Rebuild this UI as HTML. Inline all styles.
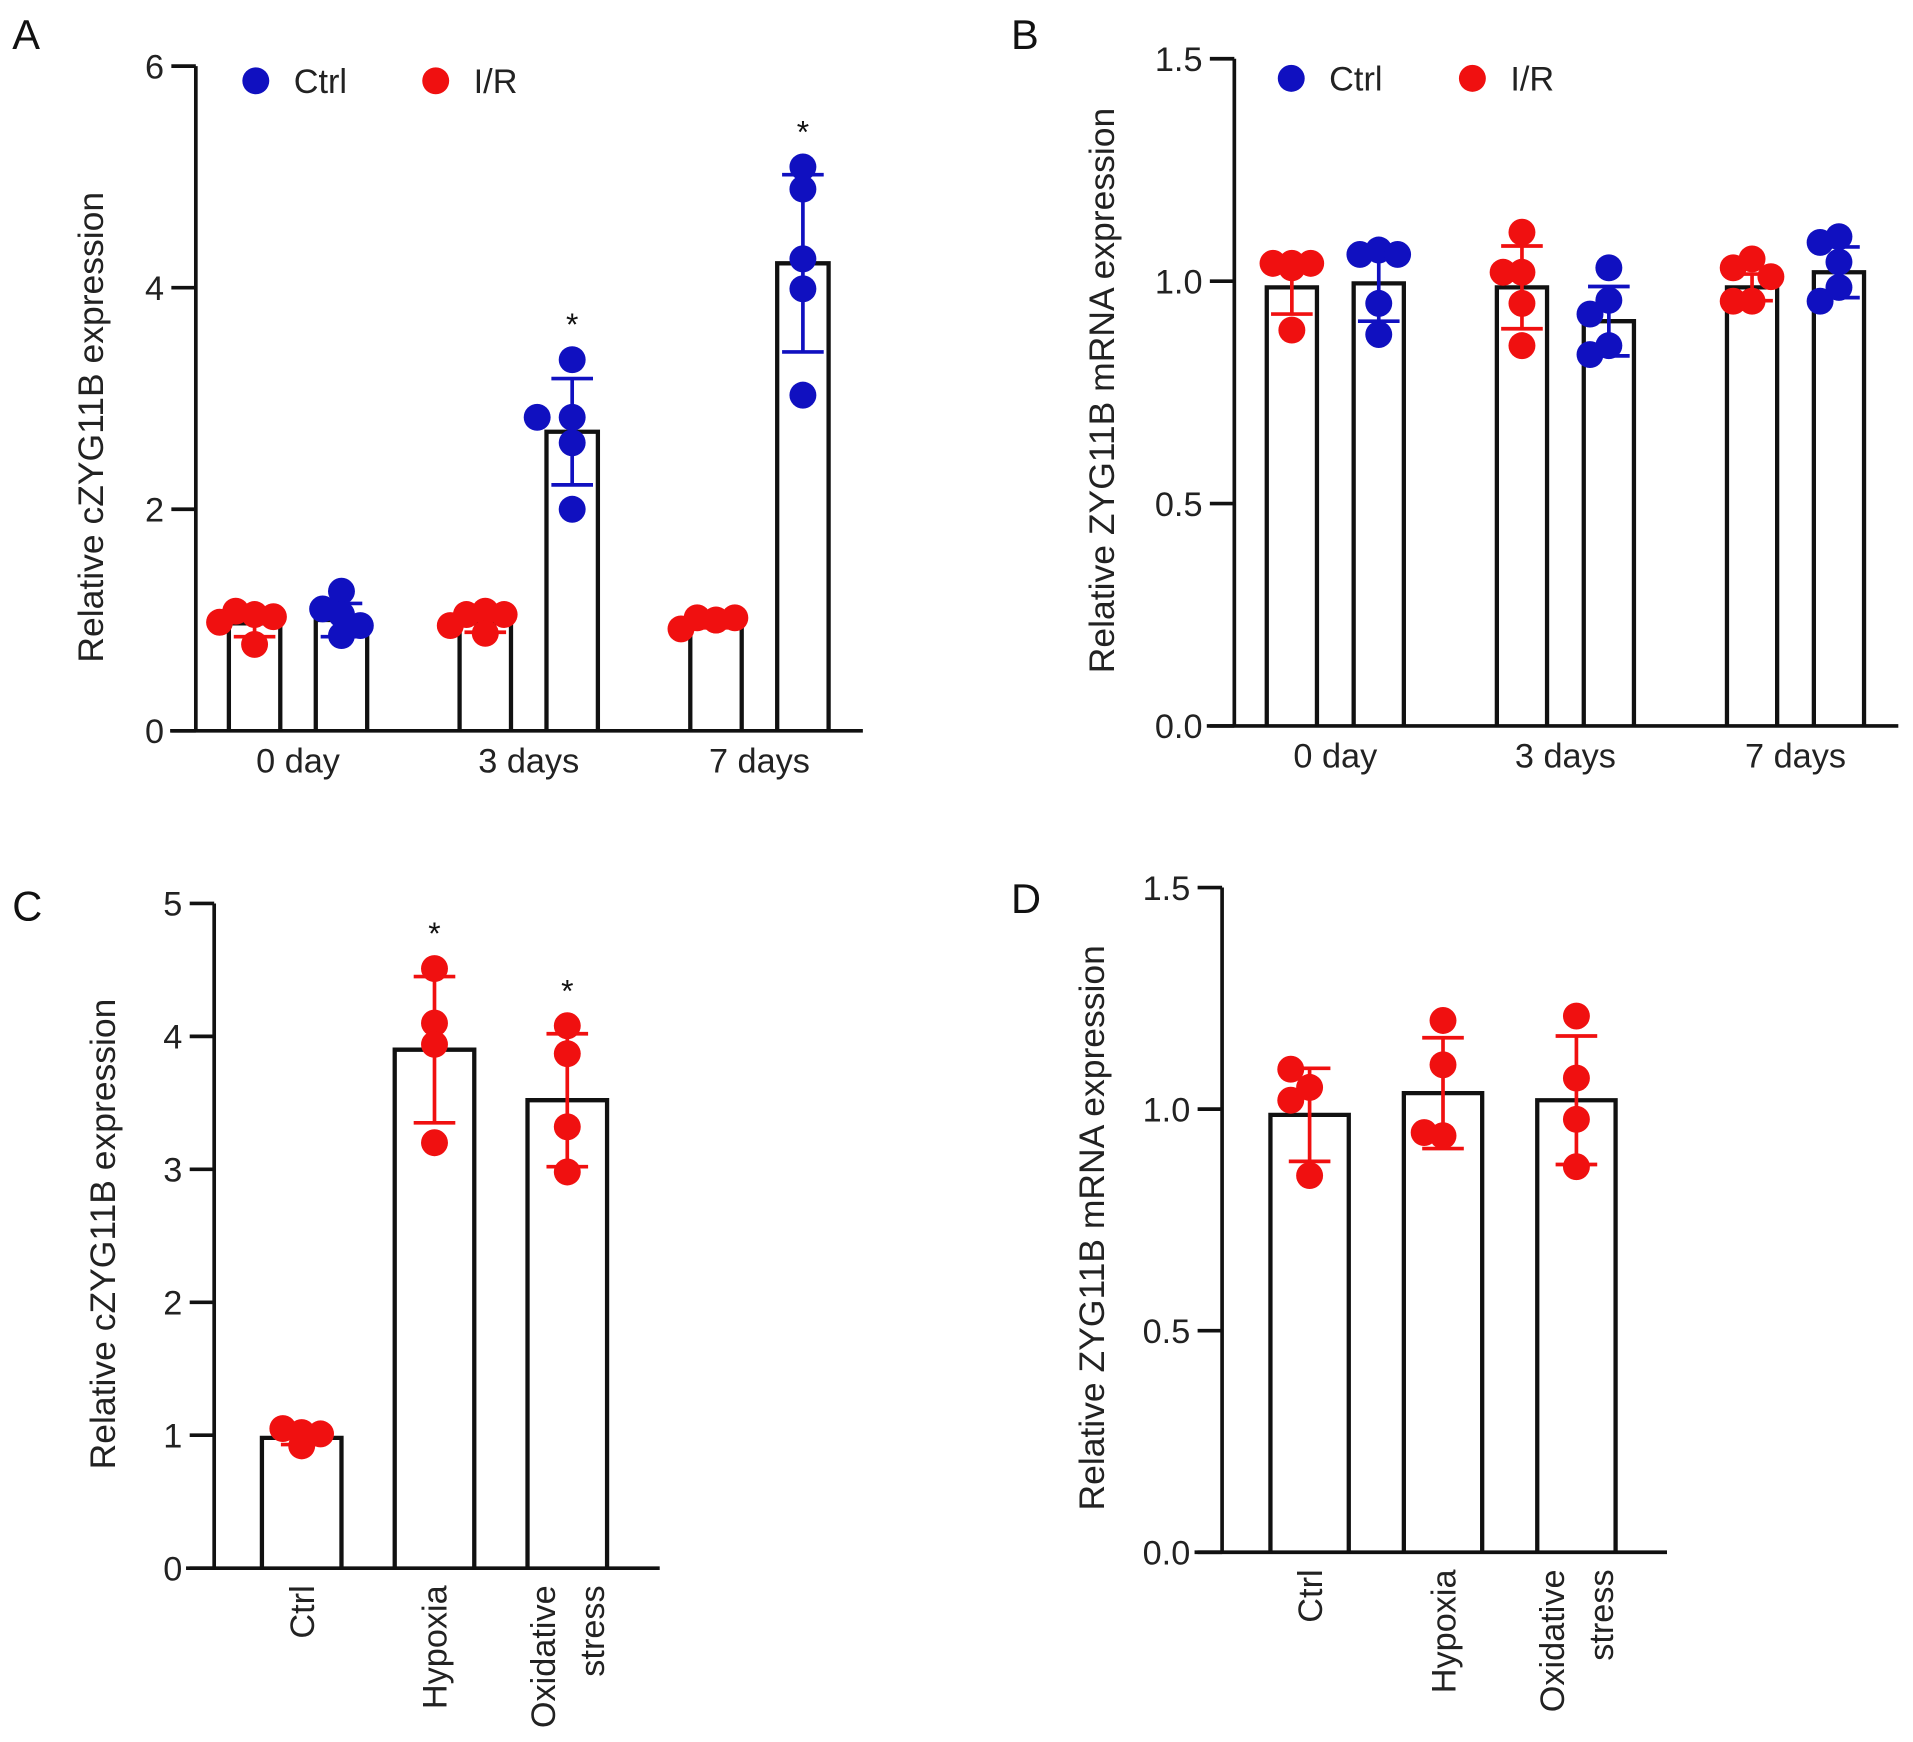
<!DOCTYPE html>
<html><head><meta charset="utf-8"><style>
html,body{margin:0;padding:0;background:#fff;}
svg{display:block;font-family:"Liberation Sans",Arial,sans-serif;}
</style></head><body>
<svg id="fig" width="1913" height="1742" viewBox="0 0 1563 1423" preserveAspectRatio="none" xmlns="http://www.w3.org/2000/svg">
<g fill="#111" font-size="34">
<text x="10" y="40">A</text>
<text x="826" y="40">B</text>
<text x="10" y="752">C</text>
<text x="826" y="746">D</text>
</g>
</svg>
<script>
// ---- Panel A data ----
const aCategories = ["0 day","3 days","7 days"];
const aTicks = [0,2,4,6];
const aIRMeans = [0.97,0.97,0.97];
const aIRSd = [0.12,0.08,0.04];
const aIRPoints = [[1.05,1.08,1.03,0.98,0.78],[1.08,1.05,1.05,0.95,0.88],[1.0,1.02,1.02,1.0,0.92]];
const aCtrlMeans = [1.0,2.7,4.22];
const aCtrlSd = [0.15,0.48,0.8];
const aCtrlPoints = [[1.26,1.1,1.05,0.95,0.86],[3.35,2.83,2.83,2.6,2.0],[5.09,4.89,4.26,3.99,3.03]];
const aStars = [false,true,true];
// ---- Panel B data ----
const bCategories = ["0 day","3 days","7 days"];
const bTicks = [0.0,0.5,1.0,1.5];
const bIRMeans = [0.986,0.986,0.986];
const bIRSd = [0.06,0.093,0.03];
const bIRPoints = [[1.04,1.04,1.04,1.03,0.89],[1.11,1.02,1.02,0.95,0.855],[1.05,1.03,1.01,0.955,0.955]];
const bCtrlMeans = [0.995,0.91,1.02];
const bCtrlSd = [0.085,0.078,0.057];
const bCtrlPoints = [[1.07,1.06,1.06,0.95,0.88],[1.03,0.957,0.926,0.855,0.835],[1.1,1.087,1.043,0.986,0.955]];
// ---- Panel C data ----
const cCategories = [["Ctrl"],["Hypoxia"],["Oxidative","stress"]];
const cTicks = [0,1,2,3,4,5];
const cMeans = [0.98,3.9,3.52];
const cSd = [0.05,0.55,0.5];
const cPoints = [[0.92,1.05,1.01,1.02],[4.51,4.1,3.94,3.2],[4.08,3.87,3.32,2.98]];
const cStars = [false,true,true];
// ---- Panel D data ----
const dCategories = [["Ctrl"],["Hypoxia"],["Oxidative","stress"]];
const dTicks = [0.0,0.5,1.0,1.5];
const dMeans = [0.987,1.036,1.02];
const dSd = [0.105,0.125,0.145];
const dPoints = [[1.049,1.09,1.02,0.85],[1.2,1.1,0.94,0.947],[1.21,1.07,0.977,0.87]];

const NS="http://www.w3.org/2000/svg";
const svg=document.getElementById('fig');
const BLUE="#1010c0", RED="#f01010", R=11;
function el(tag,attrs,parent){const e=document.createElementNS(NS,tag);for(const k in attrs)e.setAttribute(k,attrs[k]);(parent||svg).appendChild(e);return e;}

function makeAxis(g,cfg){
  const y=v=>cfg.y0-(v-cfg.vmin)/(cfg.vmax-cfg.vmin)*(cfg.y0-cfg.yTop);
  const ax=el('line',{x1:cfg.ax,y1:cfg.yTop,x2:cfg.ax,y2:cfg.y0,stroke:'#111','stroke-width':3},g);
  
  
  const xa=el('line',{x1:cfg.xStart,y1:cfg.y0,x2:cfg.xEnd,y2:cfg.y0,stroke:'#111','stroke-width':3},g);
  
  
  cfg.ticks.forEach(t=>{
    const tk=el('line',{x1:cfg.ax-20,y1:y(t),x2:cfg.ax,y2:y(t),stroke:'#111','stroke-width':3},g);
    
    
    const tl=el('text',{x:cfg.ax-26,y:y(t)+10,'text-anchor':'end','font-size':28,fill:'#222'},g);
    tl.textContent=cfg.fmt(t);
    
    
  });
  const tt=el('text',{transform:`translate(${cfg.titleX},${cfg.titleY}) rotate(-90)`,'text-anchor':'middle','font-size':29,fill:'#222'},g);
  tt.textContent=cfg.title;
  
  
  return y;
}
function drawBar(g,x1,x2,yv,yb){
  const b=el('path',{d:`M${x1},${yb} L${x1},${yv} L${x2},${yv} L${x2},${yb}`,fill:'none',stroke:'#111','stroke-width':3.5},g);
  
  
}
function drawErr(g,cx,yTop,yBot,color){
  const e=el('path',{d:`M${cx},${yTop} L${cx},${yBot} M${cx-17},${yTop} L${cx+17},${yTop} M${cx-17},${yBot} L${cx+17},${yBot}`,stroke:color,'stroke-width':3,fill:'none'},g);
  
  
}
function drawPoints(g,cx,vals,y,color){
  const placed=[];
  vals.forEach(v=>{
    const py=y(v);
    const offs=[0,-1.4*R,1.4*R,-2.6*R,2.6*R];
    let px=cx;
    for(const o of offs){const x=cx+o;if(placed.every(p=>Math.hypot(p[0]-x,p[1]-py)>=1.4*R)){px=x;break;}}
    placed.push([px,py]);
    const c=el('circle',{cx:px,cy:py,r:R,fill:color},g);
    
    
  });
}
function drawStar(g,cx,yy){
  const s=el('text',{x:cx,y:yy,'text-anchor':'middle','font-size':26,fill:'#111'},g);
  s.textContent='*';
  
  
}
function legend(g,x,y,dx){
  [["Ctrl",BLUE,0],["I/R",RED,dx]].forEach(([t,c,o])=>{
    const dot=el('circle',{cx:x+o,cy:y,r:R,fill:c},g);
    
    
    const tx=el('text',{x:x+o+31,y:y+10,'font-size':28,fill:'#222'},g);
    tx.textContent=t;
    
    
  });
}
function groupedPanel(name,cfg,cats,irM,irSd,irP,ctM,ctSd,ctP,stars){
  const g=el('g',{});
  
  
  const y=makeAxis(g,cfg);
  cats.forEach((c,i)=>{
    const x0=cfg.barStart+i*cfg.groupStep;
    const xi=[x0,x0+cfg.barW], xc=[x0+cfg.pairGap,x0+cfg.pairGap+cfg.barW];
    drawBar(g,xi[0],xi[1],y(irM[i]),cfg.y0);
    drawBar(g,xc[0],xc[1],y(ctM[i]),cfg.y0);
    const ci=(xi[0]+xi[1])/2, cc=(xc[0]+xc[1])/2;
    drawPoints(g,ci,irP[i],y,RED);
    drawPoints(g,cc,ctP[i],y,BLUE);
    drawErr(g,ci,y(irM[i]+irSd[i]),y(irM[i]-irSd[i]),RED);
    drawErr(g,cc,y(ctM[i]+ctSd[i]),y(ctM[i]-ctSd[i]),BLUE);
    if(stars&&stars[i]) drawStar(g,cc,y(Math.max(...ctP[i]))-20);
    const lb=el('text',{x:(xi[0]+xc[1])/2,y:cfg.y0+34,'text-anchor':'middle','font-size':28,fill:'#222'},g);
    lb.textContent=c;
    
    
  });
  legend(g,cfg.legX,cfg.legY,cfg.legDx);
}
function singlePanel(name,cfg,cats,m,sd,pts,stars){
  const g=el('g',{});
  
  
  const y=makeAxis(g,cfg);
  cats.forEach((c,i)=>{
    const x0=cfg.barStart+i*cfg.groupStep, x1=x0+cfg.barW, cx=(x0+x1)/2;
    drawBar(g,x0,x1,y(m[i]),cfg.y0);
    drawPoints(g,cx,pts[i],y,RED);
    drawErr(g,cx,y(m[i]+sd[i]),y(m[i]-sd[i]),RED);
    if(stars&&stars[i]) drawStar(g,cx,y(Math.max(...pts[i]))-20);
    c.forEach((line,j)=>{
      const lx=cx+(j-(c.length-1)/2)*40+10;
      const lb=el('text',{transform:`translate(${lx},${cfg.y0+14}) rotate(-90)`,'text-anchor':'end','font-size':28,fill:'#222'},g);
      lb.textContent=line;
      
      
    });
  });
}
groupedPanel('panel-a',{ax:160,yTop:54,y0:597,vmin:0,vmax:6,ticks:aTicks,fmt:t=>String(t),xStart:139,xEnd:705,
  title:'Relative cZYG11B expression',titleX:84,titleY:349,barStart:187,barW:42,pairGap:71,groupStep:188.5,
  legX:209,legY:66,legDx:147},aCategories,aIRMeans,aIRSd,aIRPoints,aCtrlMeans,aCtrlSd,aCtrlPoints,aStars);
groupedPanel('panel-b',{ax:1008.5,yTop:48,y0:593,vmin:0,vmax:1.5,ticks:bTicks,fmt:t=>t.toFixed(1),xStart:986,xEnd:1551,
  title:'Relative ZYG11B mRNA expression',titleX:910,titleY:319,barStart:1035,barW:41,pairGap:71,groupStep:188,
  legX:1055,legY:64,legDx:148},bCategories,bIRMeans,bIRSd,bIRPoints,bCtrlMeans,bCtrlSd,bCtrlPoints,null);
singlePanel('panel-c',{ax:175,yTop:738,y0:1281,vmin:0,vmax:5,ticks:cTicks,fmt:t=>String(t),xStart:152,xEnd:539,
  title:'Relative cZYG11B expression',titleX:94,titleY:1008,barStart:214,barW:65,groupStep:108.5},cCategories,cMeans,cSd,cPoints,cStars);
singlePanel('panel-d',{ax:998.5,yTop:725,y0:1268,vmin:0,vmax:1.5,ticks:dTicks,fmt:t=>t.toFixed(1),xStart:976,xEnd:1362,
  title:'Relative ZYG11B mRNA expression',titleX:902,titleY:1003,barStart:1038,barW:64,groupStep:109},dCategories,dMeans,dSd,dPoints,null);
</script>
</body></html>
